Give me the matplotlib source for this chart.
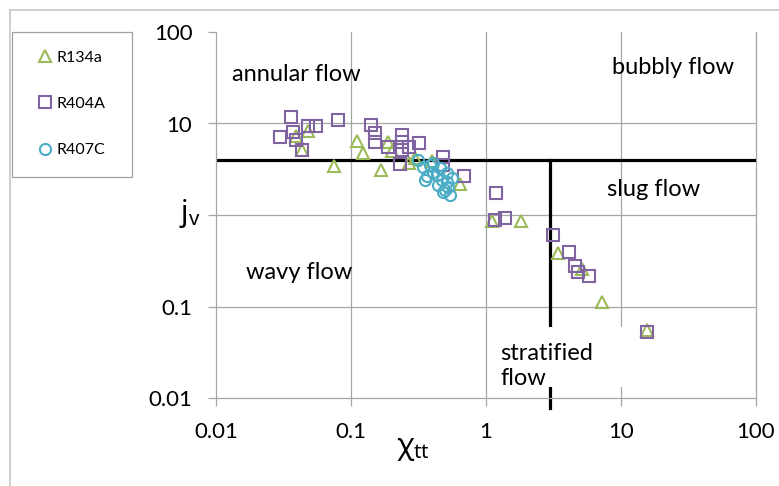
import matplotlib
matplotlib.use("Agg")
import matplotlib.pyplot as plt
from matplotlib.patches import Rectangle
from matplotlib.lines import Line2D
from matplotlib.ticker import NullLocator

plt.rcParams["font.family"] = ["Lato", "DejaVu Sans"]
plt.rcParams["mathtext.fontset"] = "custom"
plt.rcParams["mathtext.rm"] = "Noto Sans"
plt.rcParams["mathtext.it"] = "Noto Sans:italic"

# data (Lockhart-Martinelli parameter vs. dimensionless vapour velocity)
r134a_x = [0.039, 0.048, 0.043, 0.075, 0.111, 0.123, 0.167, 0.188, 0.201, 0.269,
           0.298, 0.398, 0.641, 1.11, 1.82, 3.41, 5.14, 7.23, 15.6]
r134a_y = [7.3, 8.3, 5.1, 3.4, 6.4, 4.8, 3.1, 6.3, 5.0, 3.7,
           4.2, 3.9, 2.2, 0.86, 0.86, 0.38, 0.26, 0.112, 0.055]

r404a_x = [0.036, 0.030, 0.037, 0.039, 0.043, 0.048, 0.055, 0.080, 0.141, 0.151,
           0.151, 0.188, 0.239, 0.239, 0.239, 0.231, 0.269, 0.319, 0.48, 0.48,
           0.687, 1.19, 1.17, 1.38, 3.13, 4.12, 4.56, 4.80, 5.79, 15.6]
r404a_y = [11.8, 7.1, 8.1, 6.6, 5.1, 9.4, 9.4, 10.9, 9.6, 7.9,
           6.3, 5.5, 7.5, 6.3, 5.1, 3.6, 5.5, 6.1, 4.3, 3.5,
           2.7, 1.74, 0.88, 0.93, 0.60, 0.39, 0.28, 0.24, 0.215, 0.053]

r407c_x = [0.313, 0.341, 0.353, 0.366, 0.385, 0.404, 0.404, 0.434, 0.44, 0.456,
           0.472, 0.48, 0.497, 0.514, 0.514, 0.524, 0.541, 0.56]
r407c_y = [4.0, 3.35, 2.4, 2.67, 3.5, 2.95, 3.7, 2.73, 2.13, 3.27,
           2.4, 1.78, 1.87, 2.88, 2.3, 2.02, 1.66, 2.54]

ticks = [0.01, 0.1, 1, 10, 100]
x_tick_labels = ["0.01", "0.1", "1", "10", "100"]
# the "1" on the y axis is hidden under the axis title in the original
y_tick_labels = ["0.01", "0.1", "", "10", "100"]

grid_c = "#A6A6A6"
region_fs = 17

fig = plt.figure(figsize=(7.79, 4.86), dpi=100)
ax = fig.add_axes([216 / 779, 1 - 398 / 486, 540 / 779, 366 / 486])
ax.set_xscale("log")
ax.set_yscale("log")
ax.set_xlim(0.01, 100)
ax.set_ylim(0.01, 100)
ax.set_xticks(ticks)
ax.set_xticklabels(x_tick_labels)
ax.set_yticks(ticks)
ax.set_yticklabels(y_tick_labels)
ax.xaxis.set_minor_locator(NullLocator())
ax.yaxis.set_minor_locator(NullLocator())
for s in ["top", "right"]:
    ax.spines[s].set_visible(False)
for s in ["left", "bottom"]:
    ax.spines[s].set_color(grid_c)
    ax.spines[s].set_linewidth(0.9)
ax.tick_params(direction="out", length=6, width=0.9, color=grid_c, labelsize=16)
ax.tick_params(axis="x", pad=11)
ax.tick_params(axis="y", pad=11)

# gridlines (none along the top edge)
for v in ticks[1:-1]:
    ax.axhline(v, color=grid_c, lw=0.9, zorder=1)
for v in ticks[1:]:
    ax.axvline(v, color=grid_c, lw=0.9, zorder=1, clip_on=False)

# flow regime boundaries
ax.plot([0.01, 100], [4, 4], color="black", lw=2.3, zorder=2)
ax.plot([3, 3], [4, 0.0078], color="black", lw=2.3, zorder=2, clip_on=False)

# white box behind the "stratified flow" label
ax.add_patch(Rectangle((1.1, 0.0132), 13 - 1.1, 0.0597 - 0.0132,
                       facecolor="white", edgecolor="none", zorder=3))

ax.text(0.01314, 33.9, "annular flow", fontsize=region_fs, va="center", zorder=4)
ax.text(8.58, 40.5, "bubbly flow", fontsize=region_fs, va="center", zorder=4)
ax.text(7.87, 1.88, "slug flow", fontsize=region_fs, va="center", zorder=4)
ax.text(0.01668, 0.238, "wavy flow", fontsize=region_fs, va="center", zorder=4)
ax.text(1.27, 0.0224, "stratified\nflow", fontsize=region_fs, va="center",
        linespacing=1.25, zorder=4)

l1, = ax.plot(r134a_x, r134a_y, ls="none", marker="^", ms=8.5, mfc="none",
              mec="#9BBB59", mew=1.5, zorder=5)
l2, = ax.plot(r404a_x, r404a_y, ls="none", marker="s", ms=8, mfc="none",
              mec="#8064A2", mew=1.5, zorder=5)
l3, = ax.plot(r407c_x, r407c_y, ls="none", marker="o", ms=8, mfc="none",
              mec="#4BACC6", mew=1.5, zorder=5)

# axis titles
fig.text(190 / 779, 1 - 213 / 486, r"$\mathrm{j}_{\mathrm{v}}$", fontsize=21,
         ha="center", va="center")
fig.text(413 / 779, 1 - 449 / 486, r"$\mathrm{\chi}_{\mathrm{tt}}$", fontsize=21,
         ha="center", va="center")

# legend with its own box
fig.add_artist(Rectangle((11.7 / 779, 1 - 176.7 / 486), 120 / 779, 145 / 486,
                         transform=fig.transFigure, facecolor="white",
                         edgecolor="#A0A0A0", lw=0.9))
fig.legend([l1, l2, l3], ["R134a", "R404A", "R407C"], loc="center",
           bbox_to_anchor=(71.5 / 779, 1 - 104 / 486), frameon=False,
           fontsize=11.5, labelspacing=2.0, handletextpad=0.2, handlelength=1.0)

# outer chart frame (cropped)
fig.add_artist(Line2D([10 / 779, 10 / 779], [0, 1 - 10 / 486],
                      color="#C8C8C8", lw=1.2, transform=fig.transFigure))
fig.add_artist(Line2D([10 / 779, 1], [1 - 10 / 486, 1 - 10 / 486],
                      color="#C8C8C8", lw=1.2, transform=fig.transFigure))

fig.savefig("out.png", dpi=100)
plt.close(fig)
